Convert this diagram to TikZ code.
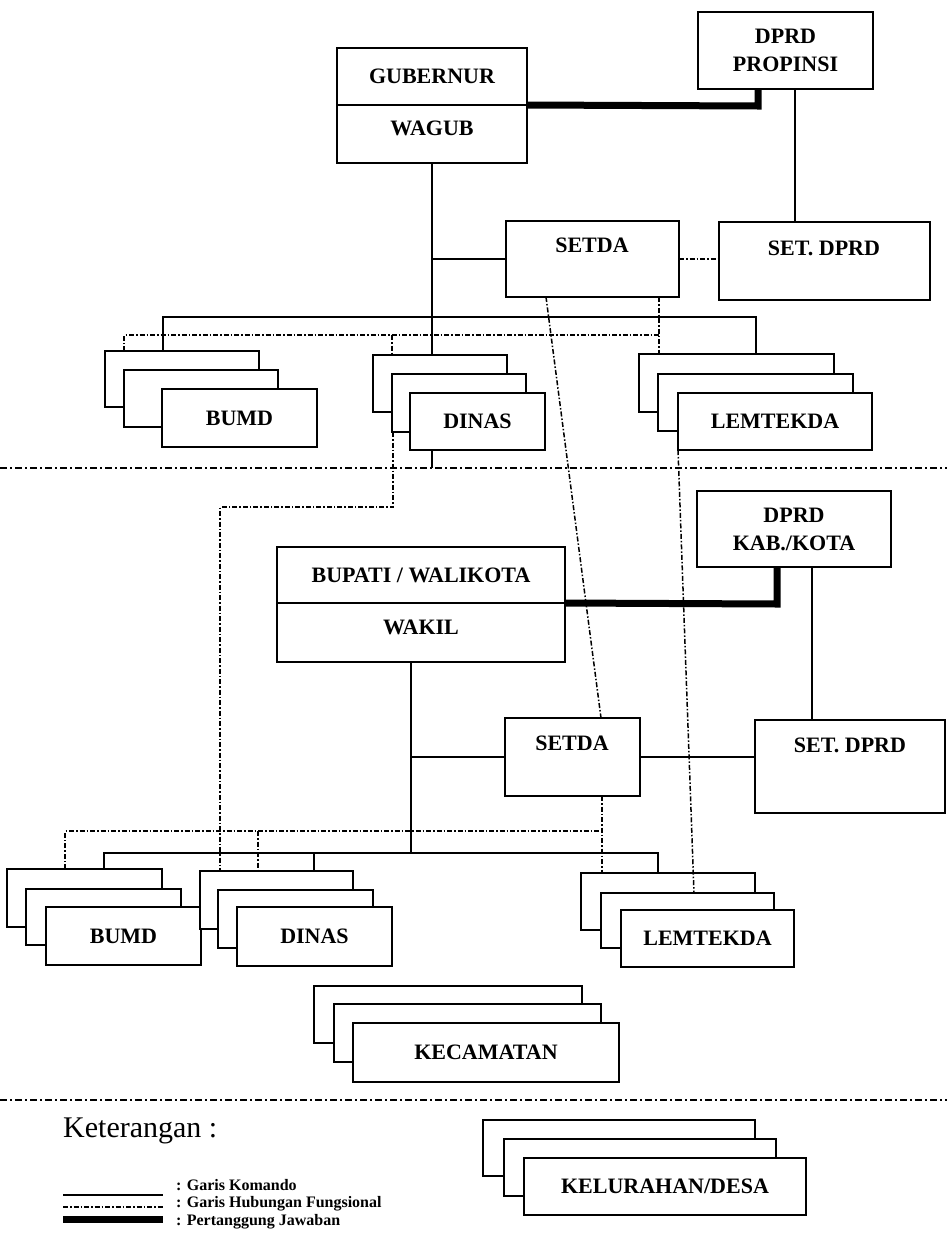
\documentclass[tikz,border=0pt]{standalone}
\usepackage{fontspec}
\setmainfont{Liberation Serif}
\newcommand\lblfont{\fontsize{22}{27}\selectfont\bfseries}
\newcommand\bx[7][]{\node[box,#1,minimum width={(#5-#3)*1pt},minimum height={(#6-#4)*1pt}] (#2) at ({(#3+#5)/2},{(#4+#6)/2}) {#7};}
\tikzset{
  box/.style={draw, line width=2.5pt, fill=white, inner sep=0pt, outer sep=0pt, font=\lblfont, align=center},
  lbl/.style={font=\lblfont, inner sep=0pt},
  cmd/.style={line width=2.2pt},
  fun/.style={line width=1.5pt, dash pattern=on 5pt off 2pt on 1.5pt off 2pt},
  sepline/.style={line width=2.2pt, dash pattern=on 7pt off 3pt on 2pt off 3pt},
  resp/.style={line width=7pt, line join=miter},
  legtext/.style={font=\fontsize{16}{18}\selectfont\bfseries, anchor=west, inner sep=0pt},
}
\begin{document}
\begin{tikzpicture}[x=1pt,y=-1pt]
\useasboundingbox (0,0) rectangle (947,1248);
% ---------------- upper level ----------------
\bx{gub}{337}{48}{527}{105}{GUBERNUR}
\bx{wagub}{337}{105}{527}{163}{}
\node[lbl] (wagubT) at (432,128) {WAGUB};
\bx{dprdp}{698}{12}{873}{89}{DPRD\\[1pt]PROPINSI}
\bx{setda}{506}{221}{679}{297}{}
\node[lbl] (setdaT) at (592,245) {SETDA};
\bx{setdp}{719}{222}{930}{300}{}
\node[lbl] (setdpT) at (824,248) {SET. DPRD};

\bx{ubumdA}{105}{351}{259}{407}{}
\bx{ubumdB}{124}{370}{278}{427}{}
\bx{ubumd}{162}{389}{317}{447}{BUMD}
\bx{udinA}{373}{355}{507}{412}{}
\bx{udinB}{392}{374}{526}{432}{}
\bx{udin}{410}{393}{545}{450}{DINAS}
\bx{ulemA}{639}{354}{834}{412}{}
\bx{ulemB}{658}{374}{853}{431}{}
\bx{ulem}{678}{393}{872}{450}{LEMTEKDA}

% connectors upper
\coordinate (tp) at (758,106);
\draw[resp] (wagub.north east) -- (tp) -- (tp |- dprdp.south);
\coordinate (dv) at (795,0);
\draw[cmd] (dv |- dprdp.south) -- (dv |- setdp.north);
\draw[cmd] (wagub.south) -- (wagub.south |- udinA.north);
\draw[cmd] (wagub.south |- setda.west) -- (setda.west);
\draw[fun] (setda.east) -- (setdp.west |- setda.east);
\coordinate (ub1) at (163,317);
\coordinate (ub2) at (756,317);
\draw[cmd] (ub1 |- ubumdA.north) -- (ub1) -- (ub2) -- (ub2 |- ulemA.north);
\coordinate (ud1) at (124,335);
\coordinate (ud2) at (659,335);
\coordinate (ud3) at (392,335);
\draw[fun] (ud1 |- ubumdA.north) -- (ud1) -- (ud2);
\draw[fun] (ud2 |- setda.south) -- (ud2 |- ulemA.north);
\draw[fun] (ud3) -- (ud3 |- udinA.north);

% separator 1
\coordinate (sepA) at (0,468);
\coordinate (sepB) at (947,468);
\draw[sepline] (sepA) -- (sepB);
\draw[cmd] (wagub.south |- udin.south) -- (wagub.south |- sepA);

% ---------------- lower level ----------------
\bx{dprdk}{697}{491}{891}{567}{DPRD\\[1pt]KAB./KOTA}
\bx{bup}{277}{547}{565}{603}{BUPATI / WALIKOTA}
\bx{wakil}{277}{603}{565}{662}{}
\node[lbl] (wakilT) at (421,627) {WAKIL};
\bx{lsetda}{505}{718}{640}{796}{}
\node[lbl] (lsetdaT) at (572,743) {SETDA};
\bx{lsetdp}{755}{720}{945}{813}{}
\node[lbl] (lsetdpT) at (850,745) {SET. DPRD};

\bx{lbumdA}{7}{869}{162}{927}{}
\bx{lbumdB}{26}{889}{181}{945}{}
\bx{lbumd}{46}{907}{201}{965}{BUMD}
\bx{ldinA}{200}{871}{353}{929}{}
\bx{ldinB}{218}{890}{373}{948}{}
\bx{ldin}{237}{907}{392}{966}{DINAS}
\bx{llemA}{581}{873}{755}{930}{}
\bx{llemB}{601}{893}{774}{948}{}
\bx{llem}{621}{910}{794}{967}{LEMTEKDA}

\bx{kecA}{314}{986}{582}{1043}{}
\bx{kecB}{334}{1004}{601}{1062}{}
\bx{kec}{353}{1023}{619}{1082}{KECAMATAN}

% connectors lower
\coordinate (tq) at (777,604);
\draw[resp] (wakil.north east) -- (tq) -- (tq |- dprdk.south);
\coordinate (dk) at (812,0);
\draw[cmd] (dk |- dprdk.south) -- (dk |- lsetdp.north);
\coordinate (wv) at (411,853);
\draw[cmd] (wv |- wakil.south) -- (wv);
\draw[cmd] (wv |- lsetda.west) -- (lsetda.west);
\draw[cmd] (lsetda.east) -- (lsetdp.west |- lsetda.east);

\coordinate (lb1) at (104,853);
\coordinate (lb2) at (658,853);
\coordinate (lb3) at (314,853);
\draw[cmd] (lb1 |- lbumdA.north) -- (lb1) -- (lb2) -- (lb2 |- llemA.north);
\draw[cmd] (lb3) -- (lb3 |- ldinA.north);

\coordinate (ld1) at (65,831);
\coordinate (ld2) at (602,831);
\coordinate (ld3) at (258,831);
\draw[fun] (ld1 |- lbumdA.north) -- (ld1) -- (ld2);
\draw[fun] (ld2 |- lsetda.south) -- (ld2 |- llemA.north);
\draw[fun] (ld3) -- (ld3 |- ldinA.north);

% functional lines between levels
\coordinate (fk) at (393,507);
\coordinate (fk2) at (220,507);
\draw[fun] (fk |- udinB.south) -- (fk) -- (fk2) -- (fk2 |- ldinA.north);
\coordinate (l1) at (546,0);
\coordinate (l2) at (601,0);
\draw[fun] (l1 |- setda.south) -- (l2 |- lsetda.north);
\coordinate (l3) at (694,0);
\draw[fun] (ulem.south west) -- (l3 |- llemB.north);

% separator 2
\coordinate (sepC) at (0,1100);
\coordinate (sepD) at (947,1100);
\draw[sepline] (sepC) -- (sepD);

% ---------------- legend ----------------
\node[anchor=west, inner sep=0pt, font=\fontsize{30}{34}\selectfont] (ket) at (63,1131) {Keterangan :};

\bx{kelA}{483}{1120}{755}{1176}{}
\bx{kelB}{504}{1139}{776}{1196}{}
\bx{kel}{524}{1158}{806}{1215}{KELURAHAN/DESA}

\coordinate (g1a) at (63,1195);
\coordinate (g1b) at (163,1195);
\draw[cmd] (g1a) -- (g1b);
\node[legtext] (g1t) at (176,1185) {: Garis Komando};
\coordinate (g2a) at (63,1207);
\coordinate (g2b) at (163,1207);
\draw[fun] (g2a) -- (g2b);
\node[legtext] (g2t) at (176,1204) {: Garis Hubungan Fungsional};
\coordinate (g3a) at (63,1219);
\coordinate (g3b) at (163,1219);
\draw[resp] (g3a) -- (g3b);
\node[legtext] (g3t) at (176,1222) {: Pertanggung Jawaban};
\end{tikzpicture}
\end{document}
